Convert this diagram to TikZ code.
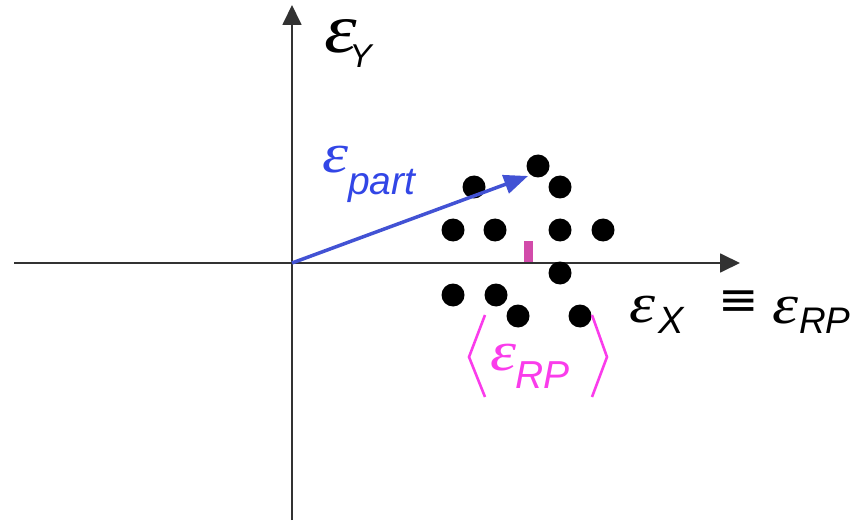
\documentclass[tikz,border=0pt]{standalone}
\usepackage{fontspec}
\newfontfamily\subf{Liberation Sans}
\newfontfamily\epsf{Liberation Serif}
\newfontfamily\symf{DejaVu Sans}
\usetikzlibrary{arrows.meta}
\definecolor{axisgray}{RGB}{50,50,50}
\definecolor{vecblue}{RGB}{66,82,212}
\definecolor{txtblue}{RGB}{50,70,230}
\definecolor{pinktxt}{RGB}{250,60,235}
\definecolor{tickpink}{RGB}{210,75,170}
\newcommand{\fs}[1]{\fontsize{#1}{#1}\selectfont}
\newcommand{\eps}[1]{\scalebox{1.18}[1]{\fs{#1}\epsf\itshape ε}}
\newcommand{\sbs}[3]{\raisebox{-#1pt}{\fs{#2}\subf\itshape #3}}
\begin{document}
\begin{tikzpicture}[x=1pt,y=-1pt,
  axis/.style={draw=axisgray,line width=1.8pt,-{Triangle[length=20pt,width=19pt]}},
  dot/.style={circle,fill=black,minimum size=23pt,inner sep=0pt},
  lbl/.style={anchor=base west,inner sep=0pt,outer sep=0pt}]
\useasboundingbox (0,0) rectangle (861,521);
% axes
\coordinate (O) at (292,263);
\coordinate (xs) at (14,263);
\coordinate (xe) at (740,263);
\coordinate (ys) at (292,520);
\coordinate (ye) at (292,5);
\draw[axis] (xs) -- (xe);
\draw[axis] (ys) -- (ye);
% tick
\coordinate (t1) at (528,241);
\coordinate (t2) at (528,262);
\draw[tickpink,line width=9pt] (t1) -- (t2);
% dots
\node[dot] (d1) at (474,187) {};
\node[dot] (d2) at (538,166) {};
\node[dot] (d3) at (560,187) {};
\node[dot] (d4) at (453,230) {};
\node[dot] (d5) at (495,230) {};
\node[dot] (d6) at (560,230) {};
\node[dot] (d7) at (603,230) {};
\node[dot] (d8) at (560,273) {};
\node[dot] (d9) at (453,295) {};
\node[dot] (d10) at (496,295) {};
\node[dot] (d11) at (518,316) {};
\node[dot] (d12) at (580,316) {};
% vector
\coordinate (vt) at (528,176);
\draw[vecblue,line width=3.5pt,-{Triangle[length=24pt,width=19pt]}] (O) -- (vt);
% brackets
\coordinate (l1) at (485,315); \coordinate (l2) at (469,357); \coordinate (l3) at (485,397);
\coordinate (r1) at (592,315); \coordinate (r2) at (607,357); \coordinate (r3) at (592,397);
\draw[pinktxt,line width=2.6pt] (l1) -- (l2) -- (l3);
\draw[pinktxt,line width=2.6pt] (r1) -- (r2) -- (r3);
% labels
\node[lbl] (ey) at (324,53) {\eps{70}\hspace{-7pt}\sbs{15}{33}{Y}};
\node[lbl,text=txtblue] (ep) at (322,173) {\eps{56}\hspace{0pt}\sbs{22}{39}{part}};
\node[lbl] (ex) at (629,322) {\eps{56}\hspace{3pt}\sbs{11}{38}{X}};
\node[lbl] (eq) at (718,315) {\scalebox{1.05}[1]{\fs{46}\symf ≡}};
\node[lbl] (er) at (772,323) {\eps{56}\hspace{1pt}\sbs{10}{37}{RP}};
\node[lbl,text=pinktxt] (em) at (490,370) {\eps{56}\hspace{-1pt}\sbs{18}{39}{RP}};
\end{tikzpicture}
\end{document}
